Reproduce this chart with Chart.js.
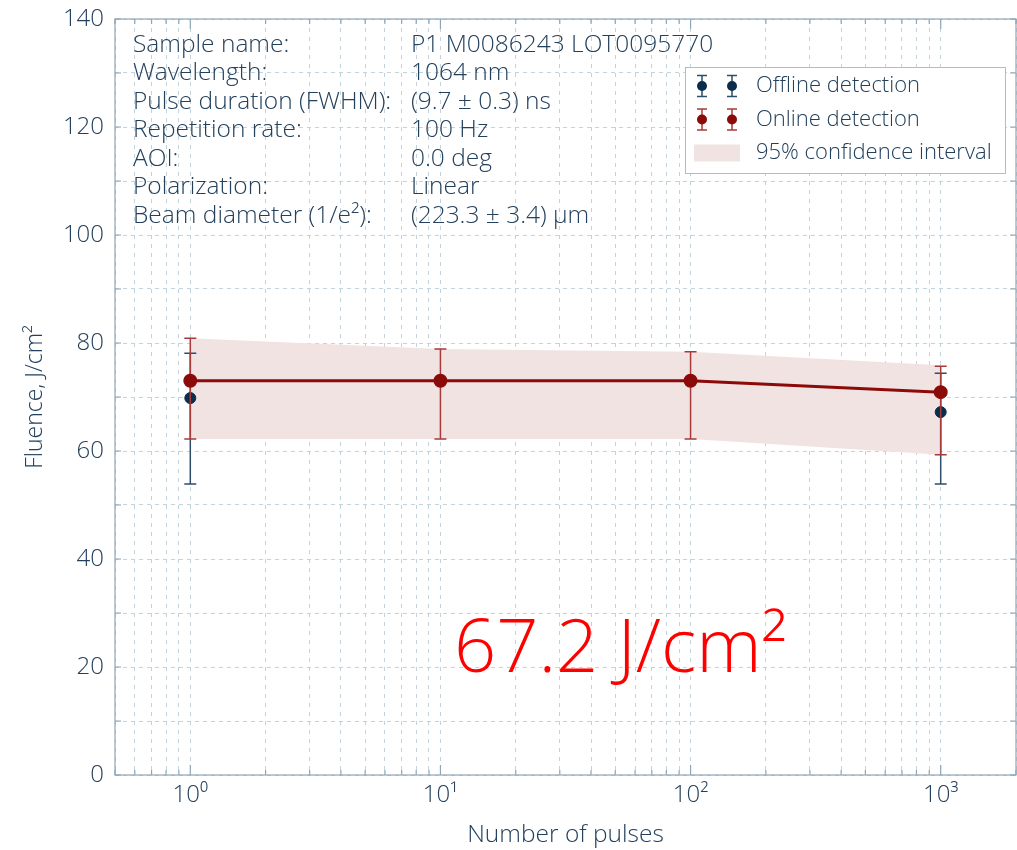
<!DOCTYPE html>
<html>
<head>
<meta charset="utf-8">
<script src="https://cdn.jsdelivr.net/npm/chart.js@4.4.1/dist/chart.umd.min.js"></script>
<style>
  html, body { margin: 0; padding: 0; background: #fff; }
  #wrap { width: 1017px; height: 850px; }
</style>
</head>
<body>
<div id="wrap"><canvas id="fluenceChart" width="1017" height="850"></canvas></div>
<script>
// data
const pulses = [1, 10, 100, 1000];
const onlineFluence = [73.0, 73.0, 73.0, 70.9];
const onlineLow = [62.2, 62.2, 62.2, 59.3];
const onlineHigh = [80.9, 78.9, 78.4, 75.7];

const offlinePulses = [1, 1000];
const offlineFluence = [69.8, 67.2];
const offlineLow = [53.9, 53.9];
const offlineHigh = [78.1, 74.4];

const bandLow = [62.2, 62.2, 62.2, 59.3];
const bandHigh = [80.9, 78.9, 78.4, 75.9];

const xTicks = [1, 10, 100, 1000];
const xTickLabels = ['10⁰', '10¹', '10²', '10³'];

const infoLabels = ['Sample name:', 'Wavelength:', 'Pulse duration (FWHM):', 'Repetition rate:',
    'AOI:', 'Polarization:', 'Beam diameter (1/e²):'];
const infoValues = ['P1 M0086243 LOT0095770', '1064 nm', '(9.7 ± 0.3) ns', '100 Hz',
    '0.0 deg', 'Linear', '(223.3 ± 3.4) µm'];
const thresholdText = '67.2 J/cm²';

const FONT = '"Open Sans"';
const NAVY = '#23405c';
const AXIS = '#8ea6b7';
const GRID = '#c3d3dc';
const RED = '#8b0a0a';
const RED_BAR = '#a83a3a';
const BLUE = '#0c2e4c';
const BLUE_BAR = '#2e4d6b';
const BAND = '#f2e3e3';

function xy(xs, ys) {
    return xs.map((x, i) => ({ x: x, y: ys[i] }));
}

// keep the plot area where the reference has it
function noPadding(scale) {
    scale.paddingTop = 0;
    scale.paddingBottom = 0;
    scale.paddingLeft = 0;
    scale.paddingRight = 0;
}

// error bars, frame, inner ticks, text block and legend
const decorations = {
    id: 'decorations',
    beforeDatasetDraw(chart, args) {
        const ds = chart.data.datasets[args.index];
        if (!ds.errLow) return;
        const ctx = chart.ctx;
        const xs = chart.scales.x, ys = chart.scales.y;
        ctx.save();
        ctx.strokeStyle = ds.errColor;
        ctx.lineWidth = 1.5;
        ds.data.forEach((p, i) => {
            const px = xs.getPixelForValue(p.x);
            const lo = ys.getPixelForValue(ds.errLow[i]);
            const hi = ys.getPixelForValue(ds.errHigh[i]);
            ctx.beginPath();
            ctx.moveTo(px, lo); ctx.lineTo(px, hi);
            ctx.moveTo(px - 6, lo); ctx.lineTo(px + 6, lo);
            ctx.moveTo(px - 6, hi); ctx.lineTo(px + 6, hi);
            ctx.stroke();
        });
        ctx.restore();
    },
    afterDraw(chart) {
        const ctx = chart.ctx;
        const a = chart.chartArea;
        const xs = chart.scales.x, ys = chart.scales.y;
        ctx.save();

        // frame
        ctx.strokeStyle = AXIS;
        ctx.lineWidth = 1.2;
        ctx.strokeRect(a.left, a.top, a.right - a.left, a.bottom - a.top);

        // inner tick marks
        ctx.beginPath();
        ys.ticks.forEach(t => {
            const py = ys.getPixelForValue(t.value);
            ctx.moveTo(a.left, py); ctx.lineTo(a.left + 6, py);
            ctx.moveTo(a.right, py); ctx.lineTo(a.right - 6, py);
        });
        xs.ticks.forEach(t => {
            const px = xs.getPixelForValue(t.value);
            const len = xTicks.includes(t.value) ? 10 : 5;
            ctx.moveTo(px, a.bottom); ctx.lineTo(px, a.bottom - len);
            ctx.moveTo(px, a.top); ctx.lineTo(px, a.top + len);
        });
        ctx.stroke();

        // sample info block
        ctx.fillStyle = NAVY;
        ctx.font = '300 24.5px ' + FONT;
        ctx.textBaseline = 'middle';
        ctx.textAlign = 'left';
        infoLabels.forEach((label, i) => {
            const ty = a.top + 26 + i * 28.5;
            ctx.fillText(label, a.left + 18, ty);
            ctx.fillText(infoValues[i], a.left + 296, ty);
        });

        // legend
        const lx = a.right - 331, ly = a.top + 48, lw = 320, lh = 106;
        ctx.fillStyle = '#fff';
        ctx.fillRect(lx, ly, lw, lh);
        ctx.strokeStyle = '#a9bfcc';
        ctx.lineWidth = 1;
        ctx.strokeRect(lx + 0.5, ly + 0.5, lw, lh);
        const rows = [
            { text: 'Offline detection', dot: BLUE, bar: BLUE_BAR },
            { text: 'Online detection', dot: RED, bar: RED_BAR },
            { text: '95% confidence interval' }
        ];
        rows.forEach((r, i) => {
            const ry = ly + 19 + i * 33.5;
            if (r.dot) {
                [lx + 17, lx + 47].forEach(mx => {
                    ctx.strokeStyle = r.bar;
                    ctx.lineWidth = 1.5;
                    ctx.beginPath();
                    ctx.moveTo(mx, ry - 10.5); ctx.lineTo(mx, ry + 10.5);
                    ctx.moveTo(mx - 5, ry - 10.5); ctx.lineTo(mx + 5, ry - 10.5);
                    ctx.moveTo(mx - 5, ry + 10.5); ctx.lineTo(mx + 5, ry + 10.5);
                    ctx.stroke();
                    ctx.fillStyle = r.dot;
                    ctx.beginPath();
                    ctx.arc(mx, ry, 5, 0, Math.PI * 2);
                    ctx.fill();
                });
            } else {
                ctx.fillStyle = BAND;
                ctx.fillRect(lx + 9, ry - 8.5, 46, 17);
            }
            ctx.fillStyle = NAVY;
            ctx.font = '300 22px ' + FONT;
            ctx.fillText(r.text, lx + 71, ry);
        });

        // threshold value
        ctx.fillStyle = '#ff0000';
        ctx.font = '300 74px ' + FONT;
        ctx.textBaseline = 'alphabetic';
        ctx.fillText(thresholdText, a.left + 339, a.top + 653);
        ctx.restore();
    }
};

function initChart() {
    const ctx = document.getElementById('fluenceChart').getContext('2d');
    new Chart(ctx, {
        type: 'line',
        data: {
            datasets: [
                {
                    label: 'Online detection',
                    data: xy(pulses, onlineFluence),
                    errLow: onlineLow, errHigh: onlineHigh, errColor: RED_BAR,
                    borderColor: RED, backgroundColor: RED,
                    borderWidth: 3, pointRadius: 5.5, pointHoverRadius: 5.5,
                    tension: 0, order: 0
                },
                {
                    label: 'Offline detection',
                    data: xy(offlinePulses, offlineFluence),
                    errLow: offlineLow, errHigh: offlineHigh, errColor: BLUE_BAR,
                    borderColor: BLUE, backgroundColor: BLUE,
                    showLine: false, pointRadius: 5.5, pointHoverRadius: 5.5, order: 1
                },
                {
                    label: '95% confidence interval',
                    data: xy(pulses, bandHigh),
                    borderWidth: 0, pointRadius: 0, backgroundColor: BAND,
                    fill: '+1', order: 2
                },
                {
                    label: 'band low',
                    data: xy(pulses, bandLow),
                    borderWidth: 0, pointRadius: 0, fill: false, order: 3
                }
            ]
        },
        options: {
            responsive: false,
            animation: false,
            events: [],
            layout: { autoPadding: false, padding: { top: 19, right: 1, left: 0, bottom: 0 } },
            plugins: {
                legend: { display: false },
                tooltip: { enabled: false }
            },
            scales: {
                x: {
                    type: 'logarithmic',
                    min: 0.5,
                    max: 2000,
                    afterBuildTicks(scale) {
                        const vals = [];
                        [0.1, 1, 10, 100, 1000].forEach(d => {
                            for (let m = 1; m <= 9; m++) {
                                const v = Math.round(m * d * 10) / 10;
                                if (v >= 0.5 && v <= 2000) vals.push({ value: v });
                            }
                        });
                        vals.push({ value: 2000 });
                        scale.ticks = vals;
                    },
                    afterFit(scale) { scale.height = 75; noPadding(scale); },
                    grid: { color: GRID, lineWidth: 1, drawTicks: false },
                    border: { display: false, dash: [4, 5] },
                    ticks: {
                        autoSkip: false, maxRotation: 0, minRotation: 0,
                        padding: 6, color: NAVY,
                        font: { family: FONT, size: 24, weight: 300 },
                        callback: value => {
                            const i = xTicks.indexOf(value);
                            return i >= 0 ? xTickLabels[i] : '';
                        }
                    },
                    title: {
                        display: true, text: 'Number of pulses', color: NAVY,
                        font: { family: FONT, size: 24.5, weight: 300 },
                        padding: { top: 0, bottom: 0 }
                    }
                },
                y: {
                    min: 0,
                    max: 140,
                    afterFit(scale) { scale.width = 115; noPadding(scale); },
                    grid: { color: GRID, lineWidth: 1, drawTicks: false },
                    border: { display: false, dash: [4, 4] },
                    ticks: {
                        stepSize: 10, autoSkip: false, padding: 11, color: NAVY,
                        font: { family: FONT, size: 24, weight: 300 },
                        callback: value => (value % 20 === 0 ? value : '')
                    },
                    title: {
                        display: true, text: 'Fluence, J/cm²', color: NAVY,
                        font: { family: FONT, size: 23, weight: 300 },
                        padding: { top: 22, bottom: 0 }
                    }
                }
            }
        },
        plugins: [decorations]
    });
}

window.onload = initChart;
</script>
</body>
</html>
